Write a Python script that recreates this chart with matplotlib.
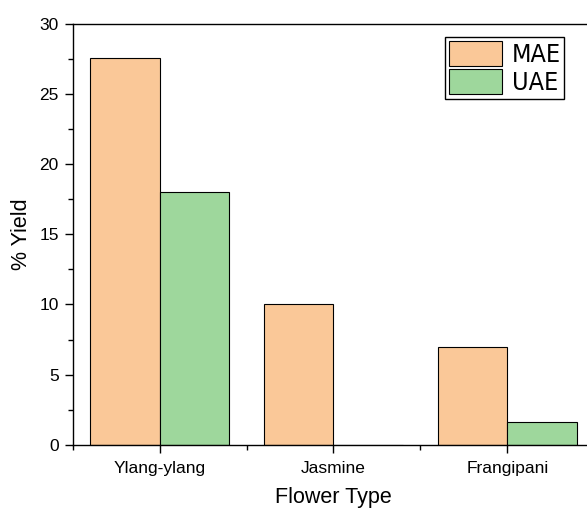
import numpy as np
import matplotlib
matplotlib.use("Agg")
import matplotlib.pyplot as plt
from matplotlib.ticker import MultipleLocator, FixedLocator
from matplotlib import font_manager

plt.rcParams['font.family'] = ['Liberation Sans', 'DejaVu Sans']

##-----------------##
##      DATA       ##
##-----------------##
flowers = ["Ylang-ylang", "Jasmine", "Frangipani"]
mae = [27.6, 10.0, 7.0]
uae = [18.0, 0.0, 1.6]
series_names = ["MAE", "UAE"]

c_mae = "#FAC898"
c_uae = "#9ED79C"

x = np.arange(len(flowers))
w = 0.4

fig = plt.figure(figsize=(5.87, 5.08), dpi=100)
ax = fig.add_axes([72.7/587, 63.3/508, 521.6/587, 420.7/508])

ax.bar(x - w/2, mae, w, color=c_mae, edgecolor="black", linewidth=0.8, label=series_names[0])
ax.bar(x + w/2, uae, w, color=c_uae, edgecolor="black", linewidth=0.8, label=series_names[1])

ax.set_xlim(-0.5, 2.5)
ax.set_ylim(0, 30)
ax.set_xticks(x)
ax.set_xticklabels(flowers)
ax.xaxis.set_minor_locator(FixedLocator([-0.5, 0.5, 1.5, 2.5]))
ax.yaxis.set_major_locator(MultipleLocator(5))
ax.yaxis.set_minor_locator(MultipleLocator(2.5))

ax.tick_params(axis="both", which="major", direction="out", length=6, width=1)
ax.tick_params(axis="x", which="major", labelsize=12.5, pad=6)
ax.tick_params(axis="both", which="minor", direction="out", length=3.5, width=1)
ax.tick_params(axis="y", which="major", pad=4, labelsize=12.5)

for s in ax.spines.values():
    s.set_linewidth(1.0)
ax.spines["right"].set_visible(False)

ax.set_xlabel("Flower Type", fontsize=15.5, labelpad=8)
ax.set_ylabel("% Yield", fontsize=15.5, labelpad=5.5)

# narrow font for the legend
legprop = font_manager.FontProperties(family=['DejaVu Sans'], stretch='condensed', size=18)
leg = ax.legend(loc="upper left", bbox_to_anchor=(445.3/587, 1 - 37.3/508), bbox_transform=fig.transFigure,
                prop=legprop, handlelength=2.1, handleheight=1.15, labelspacing=0.08, borderpad=0.15,
                handletextpad=0.4, borderaxespad=0, fancybox=False, framealpha=1,
                edgecolor="black")
leg.get_frame().set_linewidth(1.0)

plt.savefig("out.png", dpi=100)
